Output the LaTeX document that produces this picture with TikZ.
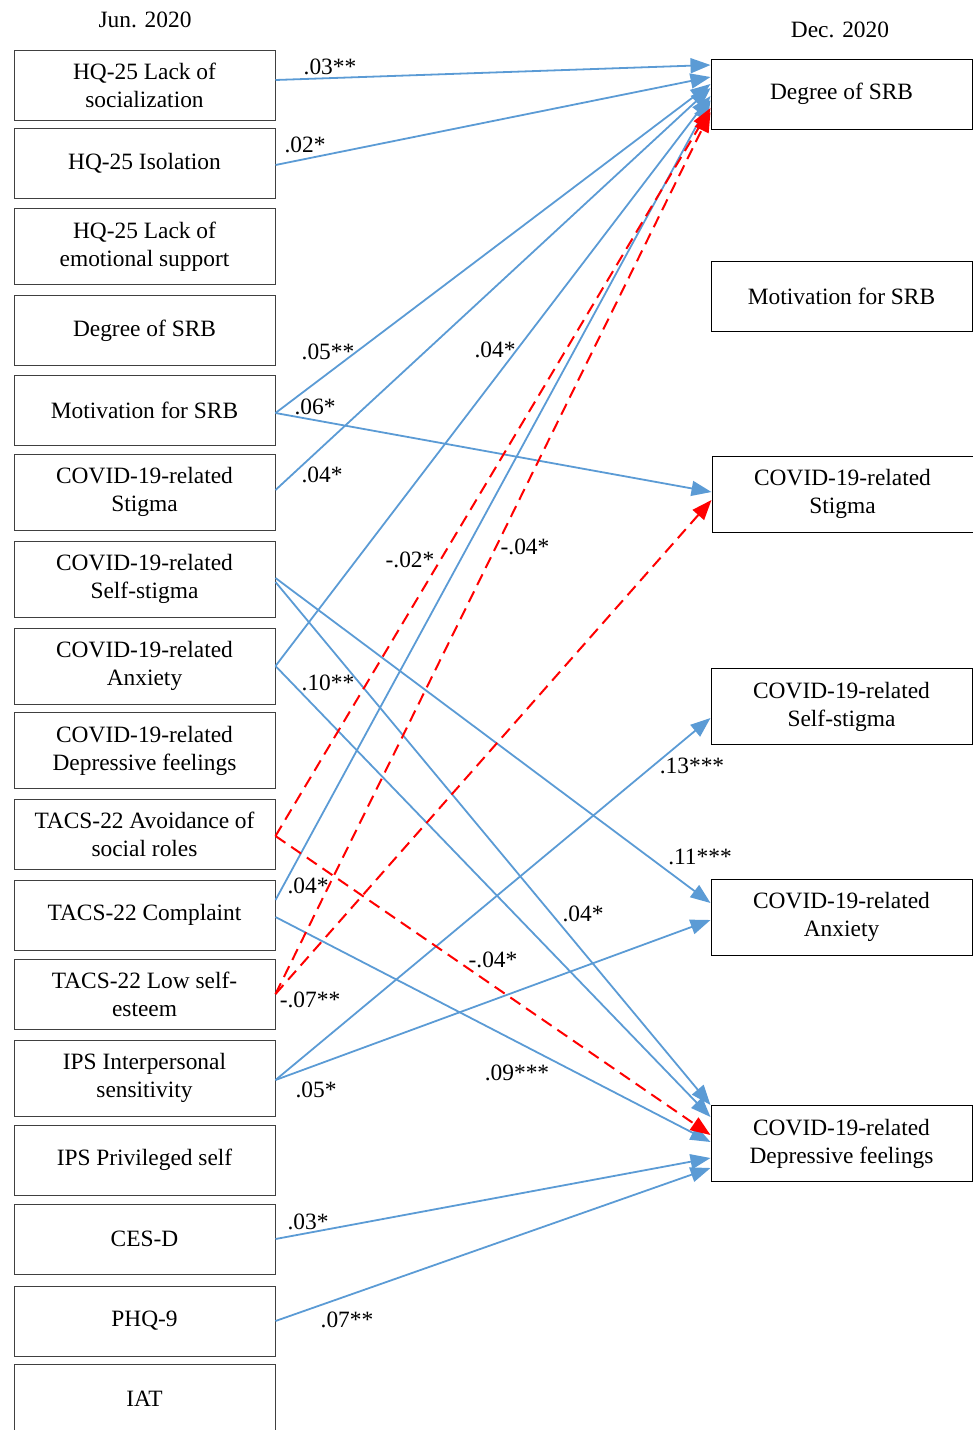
\documentclass[tikz,border=0pt]{standalone}
\usepackage{fontspec}
\setmainfont{Liberation Serif}
\usetikzlibrary{arrows.meta}
\definecolor{PathBlue}{HTML}{5B9BD5}
\definecolor{PathRed}{HTML}{FF0000}
\definecolor{EdgeGray}{HTML}{404040}

\begin{document}
\begin{tikzpicture}[
    x=0.5pt, y=-0.5pt,
    font=\fontsize{11.7}{14}\selectfont,
    lbox/.style={rectangle, draw=EdgeGray, fill=white, minimum width=130.5pt, minimum height=35pt, align=center, line width=0.5pt, inner sep=2pt},
    lboxt/.style={lbox, minimum height=38pt},
    rbox/.style={rectangle, draw=black, fill=white, minimum width=130.5pt, minimum height=35pt, align=center, line width=0.5pt, inner sep=2pt},
    rboxt/.style={rbox, minimum height=38pt},
    coef/.style={inner sep=1pt},
    arr/.style={-{Triangle[length=10pt,width=7.5pt]}, line width=0.9pt, color=PathBlue},
    neg/.style={arr, color=PathRed, line width=1pt, dash pattern=on 6pt off 3.5pt}
]
    \useasboundingbox (0,0) rectangle (973,1430);

    % Waves
    \node (jun) at (145,20) {Jun. 2020};
    \node (dec) at (840,30) {Dec. 2020};

    % Jun. 2020 predictors
    \node[lbox]  (hqsoc)    at (144.5,85)    {HQ-25 Lack of\\socialization};
    \node[lbox]  (hqiso)    at (144.5,163)   {HQ-25 Isolation};
    \node[lboxt] (hqemo)    at (144.5,246.5) {HQ-25 Lack of\\emotional support};
    \node[lbox]  (srbdeg)   at (144.5,330.5) {Degree of SRB};
    \node[lbox]  (srbmot)   at (144.5,410)   {Motivation for SRB};
    \node[lboxt] (stigma)   at (144.5,492)   {COVID-19-related\\Stigma};
    \node[lboxt] (selfstig) at (144.5,579)   {COVID-19-related\\Self-stigma};
    \node[lboxt] (anx)      at (144.5,666)   {COVID-19-related\\Anxiety};
    \node[lboxt] (dep)      at (144.5,750.5) {COVID-19-related\\Depressive feelings};
    \node[lbox]  (tavoid)   at (144.5,834)   {TACS-22 Avoidance of\\social roles};
    \node[lbox]  (tcompl)   at (144.5,915)   {TACS-22 Complaint};
    \node[lbox]  (tlow)     at (144.5,994)   {TACS-22 Low self-\\esteem};
    \node[lboxt] (ipssens)  at (144.5,1078)  {IPS Interpersonal\\sensitivity};
    \node[lbox]  (ipspriv)  at (144.5,1160)  {IPS Privileged self};
    \node[lbox]  (cesd)     at (144.5,1239)  {CES-D};
    \node[lbox]  (phq)      at (144.5,1321)  {PHQ-9};
    \node[lbox]  (iat)      at (144.5,1399)  {IAT};

    % Dec. 2020 outcomes
    \node[rbox]  (ddeg)      at (841.5,94)    {Degree of SRB};
    \node[rbox]  (dmot)      at (841.5,296)   {Motivation for SRB};
    \node[rboxt] (dstigma)   at (842.5,494)   {COVID-19-related\\Stigma};
    \node[rboxt] (dselfstig) at (841.5,706.5) {COVID-19-related\\Self-stigma};
    \node[rboxt] (danx)      at (841.5,917)   {COVID-19-related\\Anxiety};
    \node[rboxt] (ddep)      at (841.5,1143.5) {COVID-19-related\\Depressive feelings};

    % Positive paths
    \draw[arr] ([yshift=2.5pt]hqsoc.east) -- ([yshift=14.5pt]ddeg.west);
    \draw[arr] ([yshift=-1pt]hqiso.east) -- ([yshift=8.5pt]ddeg.west);
    \draw[arr] ([yshift=-1.5pt]srbmot.east) -- ([yshift=5pt]ddeg.west);
    \draw[arr] ([yshift=-1.5pt]srbmot.east) -- ([yshift=1pt]dstigma.west);
    \draw[arr] ([yshift=1pt]stigma.east) -- ([yshift=3pt]ddeg.west);
    \draw[arr] (anx.east) -- ([yshift=-1pt]ddeg.west);
    \draw[arr] (anx.east) -- ([yshift=13.25pt]ddep.west);
    \draw[arr] ([yshift=0.5pt]selfstig.east) -- ([yshift=7pt]danx.west);
    \draw[arr] ([yshift=-1.5pt]selfstig.east) -- ([yshift=19.25pt]ddep.west);
    \draw[arr] ([yshift=7.5pt]tcompl.east) -- ([yshift=-3pt]ddeg.west);
    \draw[arr] ([yshift=-1pt]tcompl.east) -- ([yshift=0.75pt]ddep.west);
    \draw[arr] ([yshift=-1pt]ipssens.east) -- ([yshift=-5.75pt]dselfstig.west);
    \draw[arr] ([yshift=-1pt]ipssens.east) -- ([yshift=-1.5pt]danx.west);
    \draw[arr] (cesd.east) -- ([yshift=-7.25pt]ddep.west);
    \draw[arr] (phq.east) -- ([yshift=-12.25pt]ddep.west);

    % Negative paths
    \draw[neg] ([yshift=-1pt]tavoid.east) -- ([yshift=-7pt]ddeg.west);
    \draw[neg] ([yshift=-1pt]tavoid.east) -- ([yshift=4.25pt]ddep.west);
    \draw[neg] (tlow.east) -- ([yshift=-9pt]ddeg.west);
    \draw[neg] (tlow.east) -- ([yshift=-3pt]dstigma.west);

    % Coefficients
    \node[coef] (c1)  at (330,67)   {.03**};
    \node[coef] (c2)  at (305,145)  {.02*};
    \node[coef] (c3)  at (328,352)  {.05**};
    \node[coef] (c4)  at (315,407)  {.06*};
    \node[coef] (c5)  at (322,475)  {.04*};
    \node[coef] (c6)  at (495,350)  {.04*};
    \node[coef] (c7)  at (410,560)  {-.02*};
    \node[coef] (c8)  at (525,547)  {-.04*};
    \node[coef] (c9)  at (328,683)  {.10**};
    \node[coef] (c10) at (692,766)  {.13***};
    \node[coef] (c11) at (700,857)  {.11***};
    \node[coef] (c12) at (308,886)  {.04*};
    \node[coef] (c13) at (583,914)  {.04*};
    \node[coef] (c14) at (493,960)  {-.04*};
    \node[coef] (c15) at (310,1000) {-.07**};
    \node[coef] (c16) at (517,1073) {.09***};
    \node[coef] (c17) at (316,1090) {.05*};
    \node[coef] (c18) at (308,1222) {.03*};
    \node[coef] (c19) at (347,1320) {.07**};
\end{tikzpicture}
\end{document}
